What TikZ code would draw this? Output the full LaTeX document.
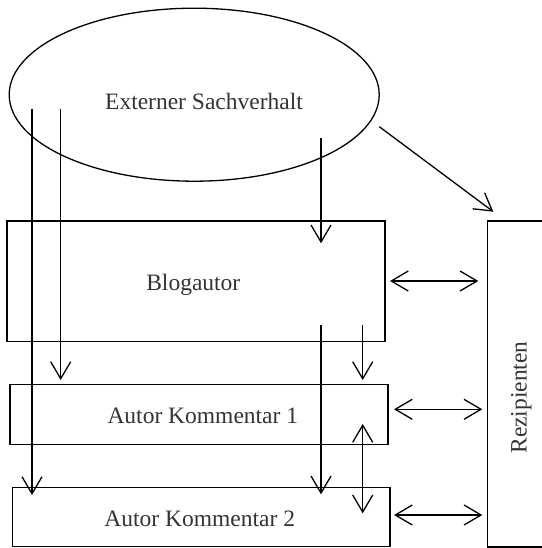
\documentclass[tikz,border=0pt]{standalone}
\usepackage{fontspec}
\setmainfont{Liberation Serif}
\usetikzlibrary{arrows.meta,shapes.geometric}
\begin{document}
\begin{tikzpicture}[x=1pt,y=-1pt,
  line width=1.3pt,
  box/.style={draw, rectangle, inner sep=0pt, outer sep=0pt},
  lbl/.style={anchor=base, inner sep=0pt, text=black!80,
              font=\fontsize{23.5}{28}\selectfont},
  barb/.tip={Straight Barb[length=17pt,width=20pt]},
  flow/.style={-barb},
  both/.style={barb-barb}]
\useasboundingbox (0,0) rectangle (541,548);

% shapes
\node[draw, ellipse, inner sep=0pt, outer sep=0pt,
      minimum width=370, minimum height=173] (ext) at (194.2,94.7) {};
\node[box, minimum width=378, minimum height=120.7] (blog) at (196,281.3) {};
\node[box, minimum width=378, minimum height=60] (ak1) at (199,414.3) {};
\node[box, minimum width=377.7, minimum height=59] (ak2) at (201.2,517.2) {};
\node[box, minimum width=72.7, minimum height=326] (rez) at (523.7,384) {};

% labels
\node[lbl] (extlbl) at (204,110) {Externer Sachverhalt};
\node[lbl] (bloglbl) at (193.3,290) {Blogautor};
\node[lbl] (ak1lbl) at (202.8,423) {Autor Kommentar 1};
\node[lbl] (ak2lbl) at (199.7,526.7) {Autor Kommentar 2};
\node[lbl, rotate=90] (rezlbl) at (526.7,397.5) {Rezipienten};

% connector end points
\coordinate (s1) at (32,109);     \coordinate (e1) at (32,495);
\coordinate (s2) at (60.7,109);   \coordinate (e2) at (60.7,380);
\coordinate (s3) at (321,138);    \coordinate (e3) at (321,243.3);
\coordinate (s4) at (321,325);    \coordinate (e4) at (321,494.3);
\coordinate (s5) at (362.7,325);  \coordinate (e5) at (362.7,380);
\coordinate (s6) at (362.7,424);  \coordinate (e6) at (362.7,513.3);
\coordinate (s7) at (379.3,126.7);\coordinate (e7) at (493.3,211.7);
\coordinate (h1a) at (390,281);   \coordinate (h1b) at (478.3,281);
\coordinate (h2a) at (394,409.3); \coordinate (h2b) at (482.3,409.3);
\coordinate (h3a) at (394,515);   \coordinate (h3b) at (482.3,515);

% connectors
\draw[flow] (s1) -- (e1);
\draw[flow] (s2) -- (e2);
\draw[flow] (s3) -- (e3);
\draw[flow] (s4) -- (e4);
\draw[flow] (s5) -- (e5);
\draw[both] (s6) -- (e6);
\draw[flow] (s7) -- (e7);
\draw[both] (h1a) -- (h1b);
\draw[both] (h2a) -- (h2b);
\draw[both] (h3a) -- (h3b);
\end{tikzpicture}
\end{document}
